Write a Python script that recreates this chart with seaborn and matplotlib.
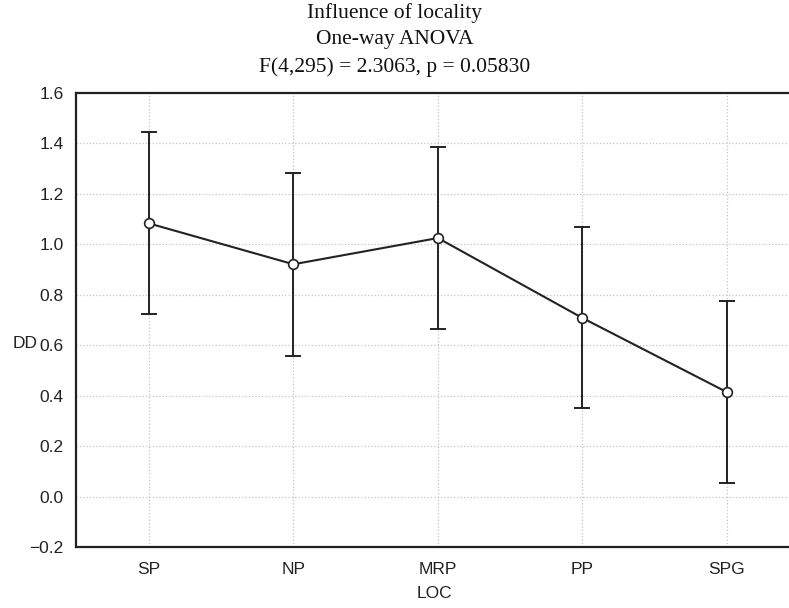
import seaborn as sns
import matplotlib.pyplot as plt
import pandas as pd

# values
locs = ["SP", "NP", "MRP", "PP", "SPG"]
dd_mean = [1.083, 0.921, 1.025, 0.708, 0.414]
dd_upper = [1.445, 1.283, 1.385, 1.070, 0.776]
dd_lower = [0.725, 0.559, 0.665, 0.350, 0.052]
y_ticks = [-0.2, 0.0, 0.2, 0.4, 0.6, 0.8, 1.0, 1.2, 1.4, 1.6]

title_lines = ["Influence of locality", "One-way ANOVA",
               "F(4,295) = 2.3063, p = 0.05830"]

df = pd.DataFrame({"LOC": locs, "DD": dd_mean,
                   "lo": dd_lower, "hi": dd_upper})

sns.set_style("white")
plt.rcParams['font.family'] = ['Liberation Sans', 'DejaVu Sans']

fig = plt.figure(figsize=(7.89, 6.08), dpi=100)
ax = fig.add_axes([76 / 789, 61 / 608, 713 / 789, 454 / 608])

# error bars (min/max of interval around each mean)
err_low = df["DD"] - df["lo"]
err_high = df["hi"] - df["DD"]
ax.errorbar(range(len(locs)), df["DD"], yerr=[err_low, err_high],
            fmt='none', ecolor='#222222', elinewidth=1.4, capsize=6,
            capthick=1.4, zorder=2)

sns.lineplot(data=df, x="LOC", y="DD", ax=ax, color='#222222',
             linewidth=1.5, marker='o', markersize=7,
             markerfacecolor='white', markeredgecolor='#222222',
             markeredgewidth=1.2, sort=False, zorder=3)

ax.set_xlim(-0.505, 4.43)
ax.set_ylim(-0.2, 1.6)
ax.set_yticks(y_ticks)
ax.set_yticklabels([f"{v:.1f}".replace("-", "\u2212") for v in y_ticks])
ax.set_xticks(range(len(locs)))
ax.set_xticklabels(locs)

ax.grid(True, linestyle=':', color='#c4c4c4', linewidth=0.9)
ax.tick_params(direction='in', length=4, width=1.2, labelsize=12.5,
               pad=11, colors='#222222')
ax.tick_params(axis='y', pad=9)

for side in ["left", "bottom", "top"]:
    ax.spines[side].set_color('#222222')
    ax.spines[side].set_linewidth(1.6)
ax.spines["right"].set_visible(False)

ax.set_xlabel("")
ax.set_ylabel("")
fig.text(13 / 789, 1 - 343 / 608, "DD", fontsize=12.5, ha='left',
         va='center', color='#222222')
fig.text(434 / 789, 1 - 594 / 608, "LOC", fontsize=12.5, ha='center',
         va='center', color='#222222')

fig.text(0.5, 1 - 40 / 608, "\n".join(title_lines), ha='center',
         va='center', fontsize=15.5, family=['Liberation Serif', 'DejaVu Serif'],
         linespacing=1.52, color='#111111')

fig.savefig("out.png", dpi=100, facecolor='white')
